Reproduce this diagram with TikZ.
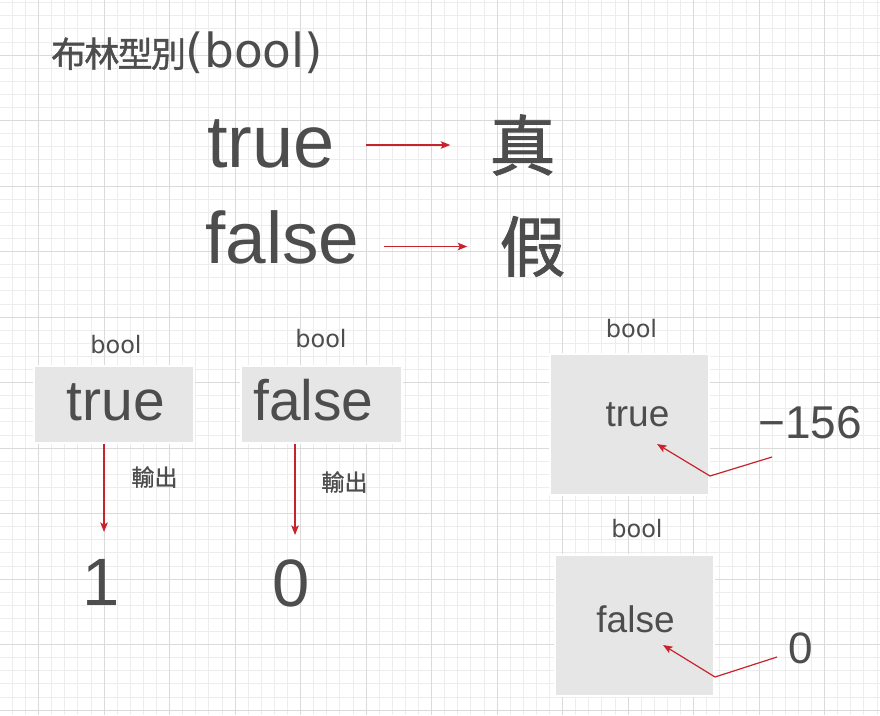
\documentclass[tikz,border=0pt]{standalone}
\usepackage{fontspec}
\setmainfont{Liberation Sans}
\newfontfamily\cjk[FakeBold=1.2]{Noto Sans CJK TC}
\newfontfamily\wide{DejaVu Sans}
\usetikzlibrary{arrows.meta,shadows}

\definecolor{ink}{HTML}{4D4D4D}
\definecolor{boxgray}{HTML}{E6E6E6}
\definecolor{arrred}{RGB}{200,35,45}
\definecolor{gridlight}{HTML}{EDEDED}
\definecolor{griddark}{HTML}{DADADA}

\begin{document}
\begin{tikzpicture}[
  x=1pt, y=-1pt,
  txt/.style={inner sep=0pt, text=ink, font=\fontsize{#1}{#1}\selectfont},
  typetxt/.style={inner sep=0pt, text=ink, font=\wide\fontsize{24}{24}\selectfont},
  cjktxt/.style={inner sep=0pt, text=ink, font=\cjk\fontsize{#1}{#1}\selectfont},
  valbox/.style={fill=boxgray, draw=white, line width=2pt, inner sep=0pt,
    drop shadow={opacity=0.15, shadow xshift=1pt, shadow yshift=-1pt}},
  arr/.style={-{Stealth[length=9.5pt,width=7.5pt,inset=2pt]}, draw=arrred, line width=1.2pt, line join=round},
  gridminor/.style={draw=gridlight, line width=0.8pt},
  gridmajor/.style={draw=griddark, line width=1pt}
]
\useasboundingbox (0,0) rectangle (880,715);
\fill[white] (0,0) rectangle (880,715);

% background grid
\foreach \k in {-2,...,64}
  \draw[gridminor] ({38.5+13.1*\k},0) -- ({38.5+13.1*\k},715);
\foreach \k in {-4,...,50}
  \draw[gridminor] (0,{55+13.1*\k}) -- (880,{55+13.1*\k});
\foreach \k in {0,...,12}
  \draw[gridmajor] ({38.5+65.5*\k},0) -- ({38.5+65.5*\k},715);
\foreach \k in {0,...,10}
  \draw[gridmajor] (0,{55+65.5*\k}) -- (880,{55+65.5*\k});

% title
\node[anchor=base west, inner sep=0pt, text=ink] (title) at (51,67)
  {{\cjk\addfontfeatures{LetterSpace=-5}\fontsize{35}{35}\selectfont 布林型別}{\wide\fontsize{47}{47}\selectfont(bool)}};

% true / false
\node[txt=74, anchor=base] (tr) at (271,167) {true};
\node[txt=73, anchor=base] (fa) at (282.5,263) {false};
\node[cjktxt=66] (zhen) at (522.5,145) {真};
\node[cjktxt=66] (jia) at (532.5,246.5) {假};

\draw[arr] ([xshift=31pt]tr.east |- zhen) -- ([xshift=-39pt]zhen.west);
\draw[arr] ([xshift=24pt]fa.east |- jia) -- ([xshift=-32pt]jia.west);

% output
\node[typetxt, anchor=base] (ty1) at (116,353) {bool};
\node[valbox, minimum width=160, minimum height=77] (b1) at (114,404) {};
\node[txt=57, anchor=base] (v1) at (116,420) {true};

\node[typetxt, anchor=base] (ty2) at (321,347) {bool};
\node[valbox, minimum width=161, minimum height=77] (b2) at (321.5,404) {};
\node[txt=57, anchor=base] (v2) at (313.5,420) {false};

\node[cjktxt=23] (out1) at (154.5,477) {輸出};
\node[cjktxt=23] (out2) at (344.5,482) {輸出};

\node[txt=67, anchor=base] (one) at (101,605) {1};
\node[txt=67, anchor=base] (zero) at (291.5,606) {0};

\coordinate (a1) at (104,532);
\coordinate (a2) at (295,535);
\draw[arr] (b1.south -| a1) -- (a1);
\draw[arr] (b2.south -| a2) -- (a2);

% conversion
\node[typetxt, anchor=base] (ty3) at (631.5,337) {bool};
\node[valbox, minimum width=159, minimum height=141] (b3) at (629.5,424.5) {};
\node[txt=37, anchor=base] (v3) at (637.5,426) {true};
\node[txt=46, anchor=base] (neg) at (810,438) {−156};

\node[typetxt, anchor=base] (ty4) at (637,537) {bool};
\node[valbox, minimum width=159, minimum height=141] (b4) at (634.5,625.5) {};
\node[txt=37, anchor=base] (v4) at (635.5,632) {false};
\node[txt=44, anchor=base] (nil) at (800.5,663) {0};

\coordinate (p1) at (772,457);
\coordinate (k1) at (710,476);
\coordinate (q1) at (657,444);
\draw[arr] (p1) -- (k1) -- (q1);

\coordinate (p2) at (777,657);
\coordinate (k2) at (715,677);
\coordinate (q2) at (663,645);
\draw[arr] (p2) -- (k2) -- (q2);
\end{tikzpicture}
\end{document}
